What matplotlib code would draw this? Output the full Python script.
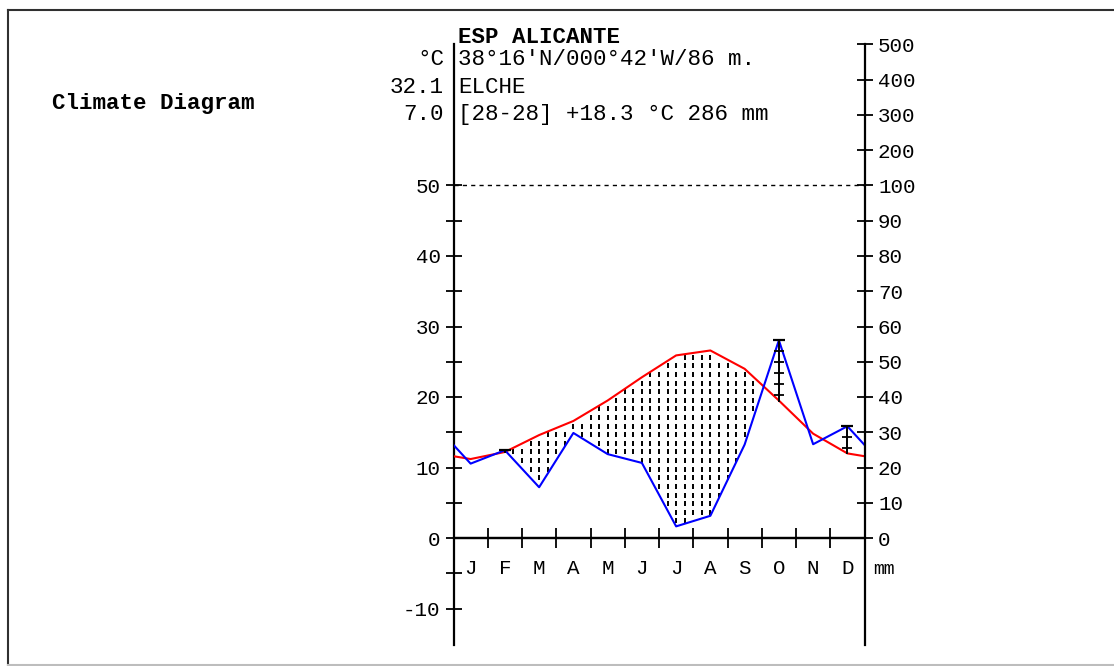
import numpy as np
import matplotlib
matplotlib.use('Agg')
from matplotlib import pyplot as plt
from matplotlib.lines import Line2D

# monthly climate normals, station ESP ALICANTE / ELCHE
months = ['J', 'F', 'M', 'A', 'M', 'J', 'J', 'A', 'S', 'O', 'N', 'D']
temp_c = [11.2, 12.2, 14.6, 16.6, 19.5, 22.8, 25.9, 26.6, 24.0, 19.5, 14.8, 12.0]
precip_mm = [21.1, 24.9, 14.4, 29.8, 23.8, 21.3, 3.3, 6.3, 26.5, 56.1, 26.6, 31.7]

station = 'ESP ALICANTE'
header_lines = ["38°16'N/000°42'W/86 m.", 'ELCHE', '[28-28] +18.3 °C 286 mm']
left_header = ['°C', '32.1', '7.0']

temp_ticks = list(range(-10, 51, 5))
mm_ticks = [0, 10, 20, 30, 40, 50, 60, 70, 80, 90, 100, 200, 300, 400, 500]

W, H = 1114, 666
PX_PER_C = 7.05


def mm_to_c(mm):
    # 10 mm = 5 degC up to 100 mm, compressed 1:20 above that
    mm = np.asarray(mm, dtype=float)
    return np.where(mm <= 100, mm / 2.0, 50 + (mm - 100) / 20.0)


def wrap(vals):
    vals = np.asarray(vals, dtype=float)
    edge = (vals[0] + vals[-1]) / 2
    return np.concatenate([[edge], vals, [edge]])


plt.rcParams['font.family'] = ['Liberation Mono', 'DejaVu Sans Mono']

fig = plt.figure(figsize=(W / 100, H / 100), dpi=100)
fig.patch.set_facecolor('white')

y_bot, y_top = -15.2, 70.0
ax_left, ax_right = 453.5, 864.5
ax_top_px = 538 - y_top * PX_PER_C
ax_bot_px = 538 - y_bot * PX_PER_C
ax = fig.add_axes([ax_left / W, 1 - ax_bot_px / H,
                   (ax_right - ax_left) / W, (ax_bot_px - ax_top_px) / H])
ax.set_xlim(0, 12)
ax.set_ylim(y_bot, y_top)
ax.patch.set_alpha(0)

x_c = np.concatenate([[0], np.arange(12) + 0.5, [12]])
t_line = wrap(temp_c)
p_line = wrap(mm_to_c(precip_mm))

# arid period: dotted fill between precipitation and temperature
gx = np.arange(0, 12.001, 0.25)
gy = np.arange(0.07, 50, 1.22)
XX, YY = np.meshgrid(gx, gy)
t_at = np.interp(XX, x_c, t_line)
p_at = np.interp(XX, x_c, p_line)
mask = (YY > p_at + 0.3) & (YY < t_at - 0.3)
ax.plot(XX[mask], YY[mask], ls='none', marker='|', ms=3.6, mew=1.4,
        color='black', zorder=2)

ax.axhline(50, color='black', lw=1.0, ls=(0, (3, 3)), zorder=1)
ax.axhline(0, color='black', lw=1.6, zorder=3)

ax.plot(x_c, t_line, color='#ff0000', lw=1.5, zorder=4)
ax.plot(x_c, p_line, color='#0000ff', lw=1.5, zorder=4)

# humid months: bar from temperature up to precipitation
step = 11 / PX_PER_C
for i in range(12):
    top = float(mm_to_c(precip_mm[i]))
    bot = temp_c[i]
    if top <= bot:
        continue
    x = i + 0.5
    ax.plot([x, x], [bot, top], color='black', lw=1.4, zorder=5)
    ax.plot([x], [top], marker='_', ms=8, mew=1.6, color='black', zorder=5)
    ticks = np.arange(top - step, bot + 0.6, -step)
    ax.plot(np.full(len(ticks), x), ticks, ls='none', marker='_', ms=6.5,
            mew=1.3, color='black', zorder=5)

# axes frame
for side in ['top', 'right', 'bottom']:
    ax.spines[side].set_visible(False)
ax.spines['left'].set_linewidth(1.6)

ax.set_yticks(temp_ticks)
ax.set_yticklabels([str(t) if t % 10 == 0 else '' for t in temp_ticks])
ax.tick_params(axis='y', direction='inout', length=12, width=1.3,
               labelsize=15, pad=3.3)

ax.set_xticks(range(1, 12))
ax.set_xticklabels([])
ax.tick_params(axis='x', direction='inout', length=15, width=1.3)
ax.spines['bottom'].set_visible(True)
ax.spines['bottom'].set_position(('data', 0))
ax.spines['bottom'].set_linewidth(1.6)

for i, m in enumerate(months):
    ax.text(i + 0.5, -5.1, m, ha='center', va='baseline', fontsize=15)
ax.text(12 + 8.5 / 34.25, -5.1, 'mm', ha='left', va='baseline', fontsize=13,
        clip_on=False)

ax2 = ax.twinx()
ax2.set_ylim(y_bot, y_top)
for side in ['top', 'left', 'bottom']:
    ax2.spines[side].set_visible(False)
ax2.spines['right'].set_linewidth(1.6)
ax2.set_yticks(mm_to_c(mm_ticks))
ax2.set_yticklabels([str(v) for v in mm_ticks])
ax2.tick_params(axis='y', direction='inout', length=12, width=1.3,
                labelsize=15, pad=3.7)


def px(x, y):
    return x / W, 1 - y / H


# header block
fig.text(*px(458, 43), station, fontsize=16.2, fontweight='bold',
         ha='left', va='baseline')
for yy, left, right in zip([65, 93, 120], left_header, header_lines):
    fig.text(*px(444, yy), left, fontsize=16.2, ha='right', va='baseline')
    fig.text(*px(458, yy), right, fontsize=16.2, ha='left', va='baseline')

fig.text(*px(51.5, 109), 'Climate Diagram', fontsize=16.2, fontweight='bold',
         ha='left', va='baseline')

# sunken window frame
fig.add_artist(Line2D([8.3 / W, 8.3 / W], [0, 1 - 9.5 / H], color='#303030', lw=1.5))
fig.add_artist(Line2D([8.3 / W, 1], [1 - 10 / H, 1 - 10 / H], color='#303030', lw=1.5))
fig.add_artist(Line2D([8.3 / W, 1], [1 - 664.8 / H, 1 - 664.8 / H], color='#bdbdbd', lw=1.5))

fig.savefig('out.png', dpi=100, facecolor='white')
plt.close(fig)
